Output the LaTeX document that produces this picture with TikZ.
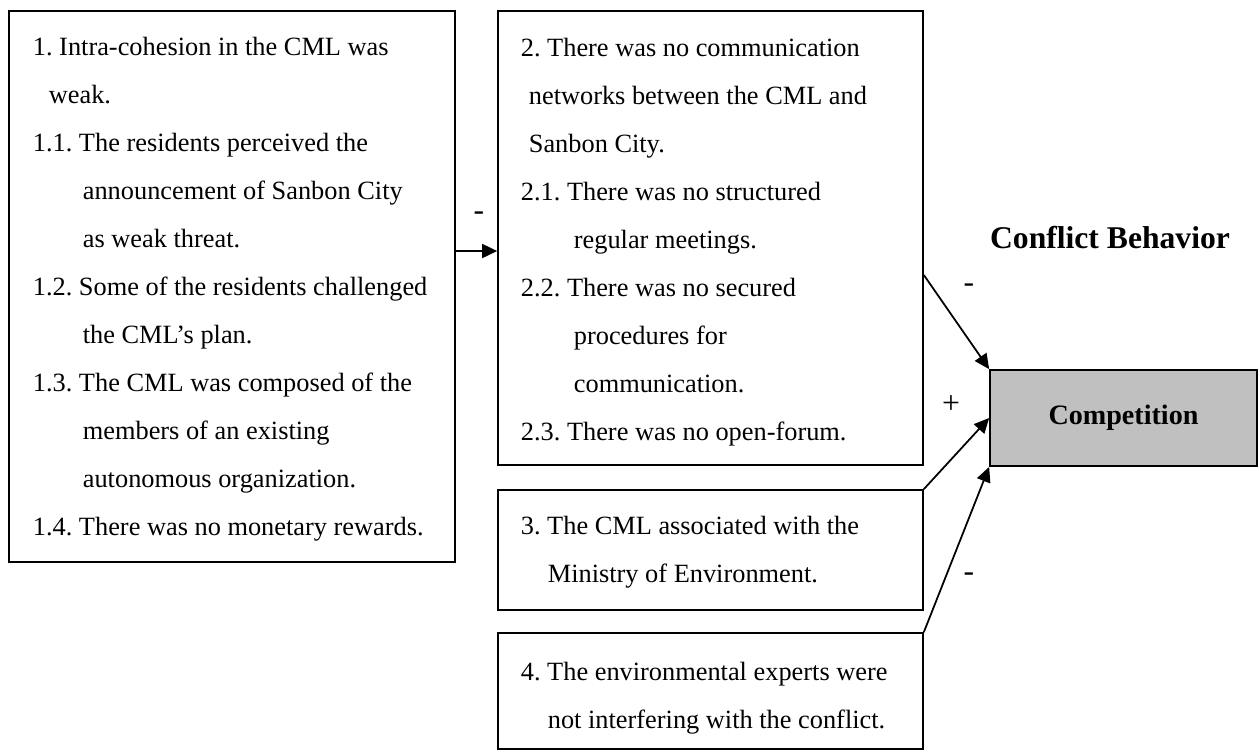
\documentclass[tikz,border=0pt]{standalone}
\usepackage{fontspec}
\setmainfont{Liberation Serif}
\usepackage{tikz}
\usetikzlibrary{arrows.meta}
\definecolor{boxgray}{RGB}{192,192,192}
\tikzset{
  box/.style={draw, line width=1pt, inner sep=0pt},
  lines/.style={anchor=base west, align=left, inner sep=0pt,
    font=\fontsize{15pt}{27.32pt}\selectfont\frenchspacing},
  sign/.style={inner sep=0pt, font=\fontsize{18pt}{20pt}\selectfont},
}

\begin{document}
\begin{tikzpicture}[x=0.02cm, y=-0.02cm, line width=1pt,
  >={Triangle[length=0.3cm, width=0.28cm]}]
\useasboundingbox (0,0) rectangle (1258,752);
%
\node(cml)[box, minimum width=8.92cm, minimum height=11.02cm] at (232,286.5) {};
\node(cmltext)[lines] at (32,535) {1. Intra-cohesion in the CML was\\
\hspace*{0.32cm}weak.\\
1.1. The residents perceived the\\
\hspace*{1cm}announcement of Sanbon City\\
\hspace*{1cm}as weak threat.\\
1.2. Some of the residents challenged\\
\hspace*{1cm}the CML’s plan.\\
1.3. The CML was composed of the\\
\hspace*{1cm}members of an existing\\
\hspace*{1cm}autonomous organization.\\
1.4. There was no monetary rewards.};
%
\node(comm)[box, minimum width=8.5cm, minimum height=9.08cm] at (710.5,238) {};
\node(commtext)[lines] at (520,440) {2. There was no communication\\
\hspace*{0.16cm}networks between the CML and\\
\hspace*{0.16cm}Sanbon City.\\
2.1. There was no structured\\
\hspace*{1.06cm}regular meetings.\\
2.2. There was no secured\\
\hspace*{1.06cm}procedures for\\
\hspace*{1.06cm}communication.\\
2.3. There was no open-forum.};
%
\node(ministry)[box, minimum width=8.5cm, minimum height=2.4cm] at (710.5,550) {};
\node(ministrytext)[lines] at (520,582) {3. The CML associated with the\\
\hspace*{0.54cm}Ministry of Environment.};
%
\node(experts)[box, minimum width=8.5cm, minimum height=2.32cm] at (710.5,691) {};
\node(expertstext)[lines] at (520,728) {4. The environmental experts were\\
\hspace*{0.54cm}not interfering with the conflict.};
%
\node(compet)[box, fill=boxgray, minimum width=5.34cm, minimum height=1.92cm,
  font=\fontsize{16pt}{19pt}\selectfont\bfseries] at (1123.5,418) {Competition};
\node(behavior)[font=\fontsize{18pt}{21pt}\selectfont\bfseries] at (1110,238) {Conflict Behavior};
%
\coordinate(fork) at ([yshift=0.71cm]cml.east);
\draw[->](fork) -- (fork -| comm.west);
\node(minus1)[sign] at (479,216) {-};
%
\draw[->]([yshift=-0.74cm]comm.east) -- (compet.north west);
\node(minus2)[sign] at (969,288) {-};
%
\draw[->](ministry.north east) -- (compet.west);
\node(plus)[sign] at (951,405) {+};
%
\draw[->](experts.north east) -- (compet.south west);
\node(minus3)[sign] at (969,577) {-};
\end{tikzpicture}
\end{document}
